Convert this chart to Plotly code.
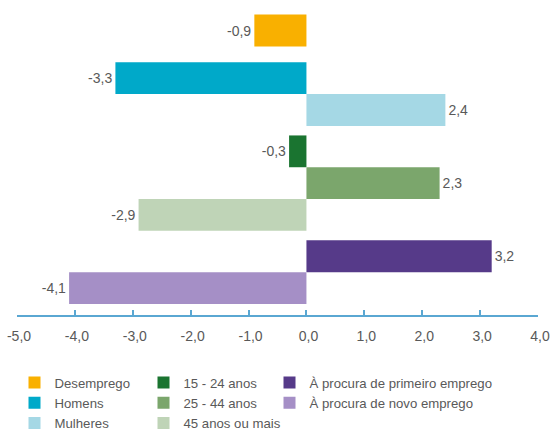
import plotly.graph_objects as go

categories = ["Desemprego", "Homens", "Mulheres", "15 - 24 anos", "25 - 44 anos",
              "45 anos ou mais", "À procura de primeiro emprego", "À procura de novo emprego"]
values = [-0.9, -3.3, 2.4, -0.3, 2.3, -2.9, 3.2, -4.1]
groups = [0, 1, 1, 2, 2, 2, 3, 3]
tick_vals = [-5, -4, -3, -2, -1, 0, 1, 2, 3, 4]

colors = ["#F9B000", "#00A9C9", "#A5D8E5", "#1A7430", "#7BA66C", "#BFD4B7", "#563A89", "#A58FC6"]
legend_of = ["legend", "legend", "legend", "legend2", "legend2", "legend2", "legend3", "legend3"]
group_offset = [0, 0.5, 0.8, 1.1]

W, H = 550, 432


def fmt(v):
    return f"{v:.1f}".replace(".", ",")


fig = go.Figure()
for i, (cat, val) in enumerate(zip(categories, values)):
    pos = i + group_offset[groups[i]]
    fig.add_trace(go.Bar(
        x=[val], y=[pos], orientation="h", name=cat,
        marker=dict(color=colors[i], line=dict(width=0)),
        width=1,
        text=[fmt(val)],
        textposition="outside",
        textfont=dict(size=14, color="#595959"),
        cliponaxis=False,
        legend=legend_of[i],
    ))

font = dict(family="Liberation Sans, Arial, sans-serif", size=13.2, color="#595959")
leg_common = dict(orientation="v", yanchor="top", xanchor="left", font=font,
                  bgcolor="rgba(0,0,0,0)", tracegroupgap=0, itemwidth=30,
                  xref="container", yref="container", y=1 - 367.5 / H)

fig.update_layout(
    width=W, height=H,
    margin=dict(l=17, r=W - 538, t=10, b=H - 315, autoexpand=False),
    paper_bgcolor="white", plot_bgcolor="white",
    font=font,
    barmode="overlay",
    showlegend=True,
    legend=dict(**leg_common, x=14.5 / W),
    legend2=dict(**leg_common, x=143.5 / W),
    legend3=dict(**leg_common, x=269.5 / W),
    xaxis=dict(range=[-5, 4], tickvals=tick_vals, ticktext=[fmt(t) for t in tick_vals],
               showgrid=False, zeroline=False, showline=True, automargin=False,
               linecolor="#5AA7D2", linewidth=1.5,
               ticks="inside", ticklen=5, tickcolor="#5AA7D2", tickwidth=1.5,
               tickfont=dict(size=14, color="#595959"), ticklabelstandoff=7,
               ticklabelshift=2, ticklabeloverflow="allow"),
    yaxis=dict(range=[8.947, -0.645], showticklabels=False, showgrid=False,
               zeroline=False, showline=False, ticks="", automargin=False),
)

fig.write_html("out.html", config={"displayModeBar": False},
               post_script="document.body.style.margin='0';")
